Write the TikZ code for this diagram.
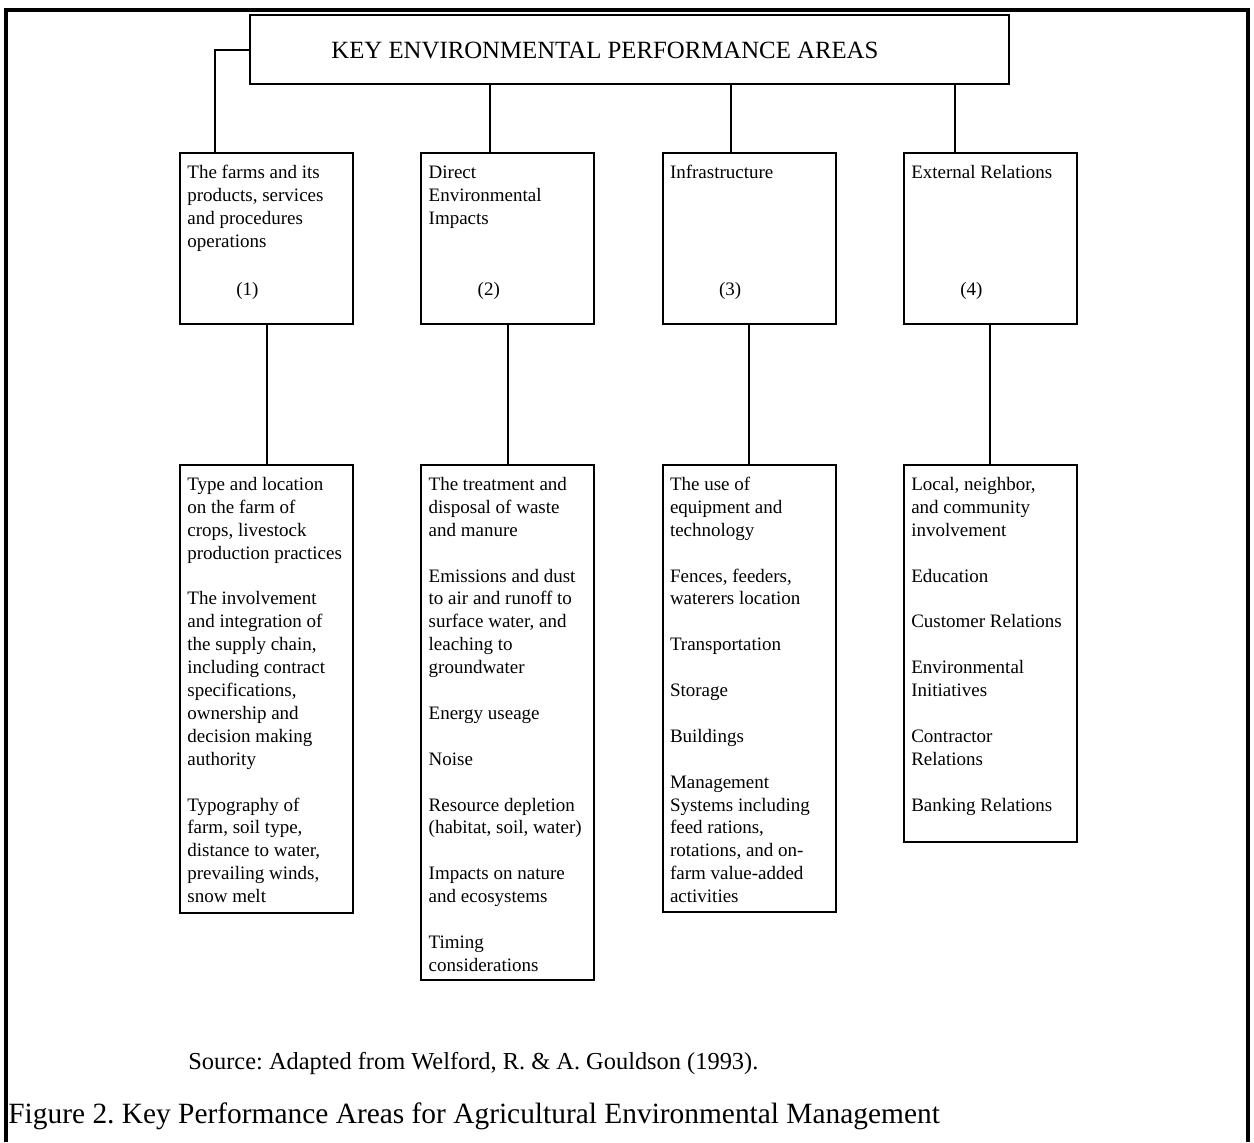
\documentclass[tikz,border=0pt]{standalone}
\usepackage{fontspec}
\setmainfont{Liberation Serif}
\usetikzlibrary{positioning}

\newcommand{\bodyfont}{\fontsize{9.5pt}{11.45pt}\selectfont}
\newcommand{\titlefont}{\fontsize{12.4pt}{14pt}\selectfont}
\newcommand{\gapline}{\\[11.45pt]}
\def\boxSep{33.15pt}
\tikzset{
  areabox/.style={draw,line width=1pt,inner sep=0pt,minimum width=86.5pt,minimum height=85.5pt},
  itembox/.style={draw,line width=1pt,inner sep=0pt,minimum width=86.5pt},
  boxtext/.style={inner sep=0pt,align=left,font=\bodyfont},
  link/.style={line width=1pt},
  frame/.style={line width=2pt}
}

\begin{document}
\frenchspacing
\begin{tikzpicture}[x=0.5pt,y=-0.5pt]
    \useasboundingbox (0,0) rectangle (1254,1142);
    \draw[frame] (6,1142) -- (6,10) -- (1248,10) -- (1248,1142);

    % title box
    \node[draw,line width=1pt,inner sep=0pt,minimum width=379.5pt,minimum height=34.5pt,anchor=north west] (key) at (249,14) {};
    \node[anchor=base west,inner sep=0pt,font=\titlefont] (keytitle) at (331,58) {KEY ENVIRONMENTAL PERFORMANCE AREAS};

    % performance areas
    \node[areabox,anchor=north west] (area1) at (179,152) {};
    \node[areabox,right=\boxSep of area1] (area2) {};
    \node[areabox,right=\boxSep of area2] (area3) {};
    \node[areabox,right=\boxSep of area3] (area4) {};

    \node[boxtext,below right=5pt and 4pt of area1.north west] (area1txt)
      {\strut The farms and its\\ products, services\\ and procedures\\ operations};
    \node[boxtext,below right=5pt and 4pt of area2.north west] (area2txt)
      {\strut Direct\\ Environmental\\ Impacts};
    \node[boxtext,below right=5pt and 4pt of area3.north west] (area3txt)
      {\strut Infrastructure};
    \node[boxtext,below right=5pt and 4pt of area4.north west] (area4txt)
      {\strut External Relations};
    \foreach \i in {1,...,4}
      \node[anchor=base west,inner sep=0pt,font=\bodyfont] (num\i)
        at ([shift={(28.5pt,15pt)}]area\i.south west) {(\i)};

    % item lists
    \node[itembox,minimum height=224pt,below=69.5pt of area1] (items1) {};
    \node[itembox,minimum height=257.5pt,below=69.5pt of area2] (items2) {};
    \node[itembox,minimum height=223.5pt,below=69.5pt of area3] (items3) {};
    \node[itembox,minimum height=188.5pt,below=69.5pt of area4] (items4) {};

    \node[boxtext,below right=5pt and 4pt of items1.north west] (items1txt)
      {\strut Type and location\\ on the farm of\\ crops, livestock\\ production practices\gapline
       The involvement\\ and integration of\\ the supply chain,\\ including contract\\
       specifications,\\ ownership and\\ decision making\\ authority\gapline
       Typography of\\ farm, soil type,\\ distance to water,\\ prevailing winds,\\ snow melt};
    \node[boxtext,below right=5pt and 4pt of items2.north west] (items2txt)
      {\strut The treatment and\\ disposal of waste\\ and manure\gapline
       Emissions and dust\\ to air and runoff to\\ surface water, and\\ leaching to\\ groundwater\gapline
       Energy useage\gapline
       Noise\gapline
       Resource depletion\\ (habitat, soil, water)\gapline
       Impacts on nature\\ and ecosystems\gapline
       Timing\\ considerations};
    \node[boxtext,below right=5pt and 4pt of items3.north west] (items3txt)
      {\strut The use of\\ equipment and\\ technology\gapline
       Fences, feeders,\\ waterers location\gapline
       Transportation\gapline
       Storage\gapline
       Buildings\gapline
       Management\\ Systems including\\ feed rations,\\ rotations, and on-\\ farm value-added\\ activities};
    \node[boxtext,below right=5pt and 4pt of items4.north west] (items4txt)
      {\strut Local, neighbor,\\ and community\\ involvement\gapline
       Education\gapline
       Customer Relations\gapline
       Environmental\\ Initiatives\gapline
       Contractor\\ Relations\gapline
       Banking Relations};

    % connectors
    \draw[link] (key.west) -| ([xshift=18pt]area1.north west);
    \foreach \i/\dx in {2/35pt,3/34.5pt,4/26pt}
      \draw[link] ([xshift=\dx]area\i.north west) -- ([xshift=\dx]area\i.north west |- key.south);
    \foreach \i in {1,...,4}
      \draw[link] (area\i) -- (items\i);

    % source and caption
    \node[anchor=base west,inner sep=0pt,font=\fontsize{12.2pt}{15pt}\selectfont] (source) at (188,1069)
      {Source: Adapted from Welford, R. \& A. Gouldson (1993).};
    \node[anchor=base west,inner sep=0pt,font=\fontsize{14.7pt}{17pt}\selectfont] (caption) at (8,1123)
      {Figure 2. Key Performance Areas for Agricultural Environmental Management};
\end{tikzpicture}
\end{document}
